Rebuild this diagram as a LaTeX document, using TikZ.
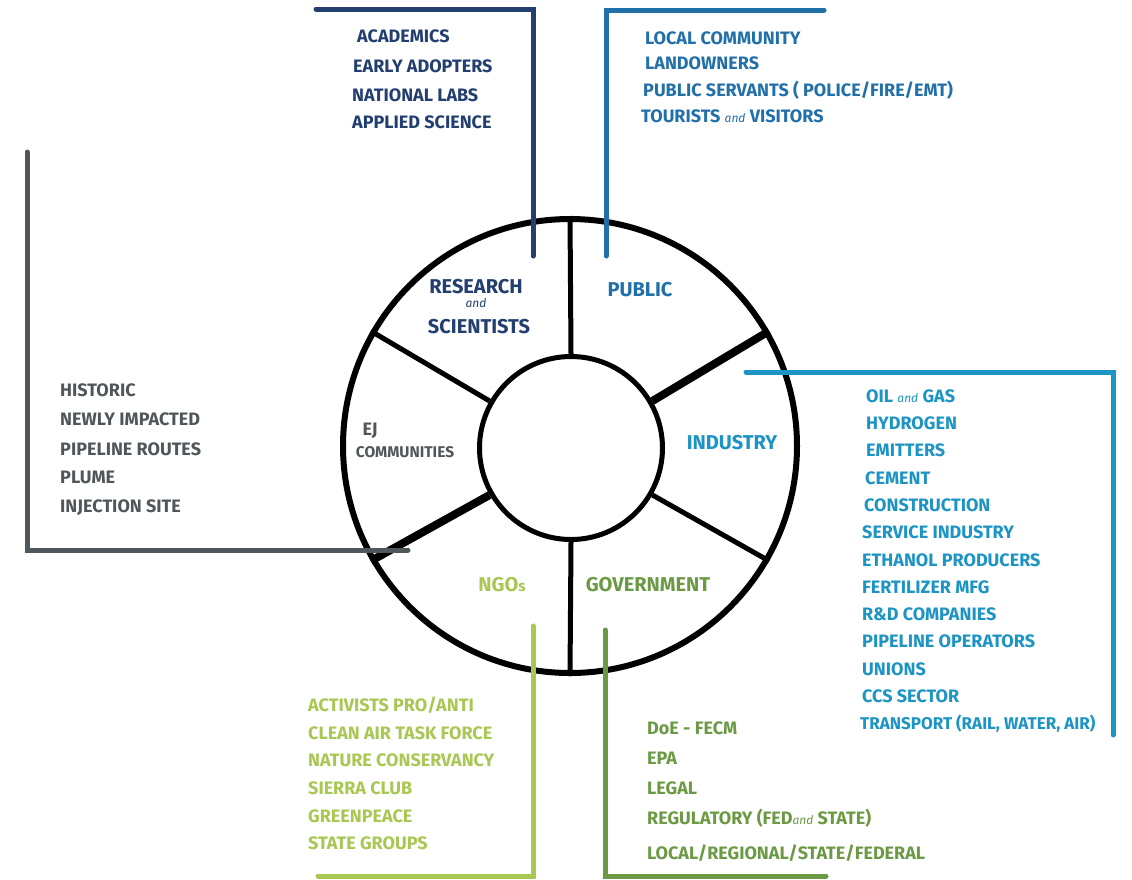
\documentclass[tikz,border=0pt]{standalone}
\usepackage{fontspec}
\newfontfamily\hand[FakeStretch=1.0]{Fira Sans}
\newcommand\aand{{\fontsize{12}{12}\selectfont\mdseries\itshape and}}
\definecolor{cnavy}{HTML}{223F70}
\definecolor{cblue}{HTML}{2270A9}
\definecolor{ccyan}{HTML}{1C94C4}
\definecolor{cgray}{HTML}{50575B}
\definecolor{clime}{HTML}{A8C753}
\definecolor{cgreen}{HTML}{6C9A44}
\tikzset{
  item/.style={anchor=base west, inner sep=0, font=\hand\bfseries\fontsize{18}{21}\selectfont},
  lbl/.style={inner sep=0, font=\hand\bfseries\fontsize{20}{23}\selectfont},
  bracket/.style={line width=5pt, line cap=round, line join=miter},
  spoke/.style={line width=5pt},
  thickspoke/.style={line width=8pt}
}
\begin{document}
\begin{tikzpicture}[x=1pt,y=-1pt]
\useasboundingbox[fill=white] (0,0) rectangle (1132,879);
% ring
\node[circle, draw, line width=6pt, minimum size=454pt, inner sep=0] (outer) at (570,446) {};
\node[circle, draw, line width=5pt, minimum size=183pt, inner sep=0] (inner) at (571,448) {};
\draw[spoke] (inner.90) -- (outer.90);
\draw[spoke] (inner.270) -- (outer.270);
\draw[spoke] (inner.150) -- (outer.150);
\draw[spoke] (inner.330) -- (outer.330);
\draw[thickspoke] (inner.30) -- (outer.30);
\draw[thickspoke] (inner.210) -- (outer.210);
% ring labels
\node[lbl, text=cnavy] (lres) at (476,287) {RESEARCH};
\node[lbl, text=cnavy] (land) at (476,303) {\aand};
\node[lbl, text=cnavy] (lsci) at (479,327) {SCIENTISTS};
\node[lbl, text=cblue] (lpub) at (640,290) {PUBLIC};
\node[lbl, text=ccyan] (lind) at (732,443) {INDUSTRY};
\node[lbl, text=cgray, font=\hand\bfseries\fontsize{18}{20}\selectfont] (lej) at (370,431) {EJ};
\node[lbl, text=cgray, font=\hand\bfseries\fontsize{15.5}{17}\selectfont] (lcom) at (405,452) {COMMUNITIES};
\node[lbl, text=clime] (lngo) at (502,585) {NGO{\fontsize{15}{15}\selectfont s}};
\node[lbl, text=cgreen] (lgov) at (648,585) {GOVERNMENT};
% brackets
\coordinate (rs-a) at (533,256); \coordinate (rs-b) at (316,9);
\draw[bracket, cnavy] (rs-a) |- (rs-b);
\coordinate (pb-a) at (606,256); \coordinate (pb-b) at (824,10);
\draw[bracket, cblue] (pb-a) |- (pb-b);
\coordinate (in-a) at (746,372); \coordinate (in-b) at (1113,735);
\draw[bracket, ccyan] (in-a) -| (in-b);
\coordinate (ej-a) at (27,152); \coordinate (ej-b) at (408,550);
\draw[bracket, cgray] (ej-a) |- (ej-b);
\coordinate (ng-a) at (533,626); \coordinate (ng-b) at (318,876);
\draw[bracket, clime] (ng-a) |- (ng-b);
\coordinate (gv-a) at (605,630); \coordinate (gv-b) at (826,876);
\draw[bracket, cgreen] (gv-a) |- (gv-b);
% research list
\begin{scope}[every node/.style={item, text=cnavy}]
\node (r1) at (357,42) {ACADEMICS};
\node (r2) at (353,72) {EARLY ADOPTERS};
\node (r3) at (352,101) {NATIONAL LABS};
\node (r4) at (352,128) {APPLIED SCIENCE};
\end{scope}
% public list
\begin{scope}[every node/.style={item, text=cblue}]
\node (p1) at (645,44) {LOCAL COMMUNITY};
\node (p2) at (645,69) {LANDOWNERS};
\node (p3) at (643,96) {PUBLIC SERVANTS ( POLICE/FIRE/EMT)};
\node (p4) at (641,122) {TOURISTS \aand{} VISITORS};
\end{scope}
% EJ list
\begin{scope}[every node/.style={item, text=cgray}]
\node (e1) at (60,396) {HISTORIC};
\node (e2) at (60,425) {NEWLY IMPACTED};
\node (e3) at (60,455) {PIPELINE ROUTES};
\node (e4) at (60,483) {PLUME};
\node (e5) at (60,512) {INJECTION SITE};
\end{scope}
% industry list
\begin{scope}[every node/.style={item, text=ccyan}]
\node (i1) at (866,402) {OIL \aand{} GAS};
\node (i2) at (866,429) {HYDROGEN};
\node (i3) at (866,456) {EMITTERS};
\node (i4) at (865,484) {CEMENT};
\node (i5) at (864,511) {CONSTRUCTION};
\node (i6) at (862,538) {SERVICE INDUSTRY};
\node (i7) at (862,566) {ETHANOL PRODUCERS};
\node (i8) at (862,593) {FERTILIZER MFG};
\node (i9) at (862,620) {R\&D COMPANIES};
\node (i10) at (862,647) {PIPELINE OPERATORS};
\node (i11) at (862,675) {UNIONS};
\node (i12) at (862,702) {CCS SECTOR};
\node[font=\hand\bfseries\fontsize{17}{20}\selectfont] (i13) at (860,729) {TRANSPORT (RAIL, WATER, AIR)};
\end{scope}
% NGO list
\begin{scope}[every node/.style={item, text=clime}]
\node (n1) at (308,711) {ACTIVISTS PRO/ANTI};
\node (n2) at (308,739) {CLEAN AIR TASK FORCE};
\node (n3) at (308,766) {NATURE CONSERVANCY};
\node (n4) at (308,794) {SIERRA CLUB};
\node (n5) at (308,822) {GREENPEACE};
\node (n6) at (308,849) {STATE GROUPS};
\end{scope}
% government list
\begin{scope}[every node/.style={item, text=cgreen}]
\node (g1) at (647,734) {DoE - FECM};
\node (g2) at (647,764) {EPA};
\node (g3) at (647,794) {LEGAL};
\node (g4) at (647,824) {REGULATORY (FED\aand{} STATE)};
\node (g5) at (647,859) {LOCAL/REGIONAL/STATE/FEDERAL};
\end{scope}
\end{tikzpicture}
\end{document}
